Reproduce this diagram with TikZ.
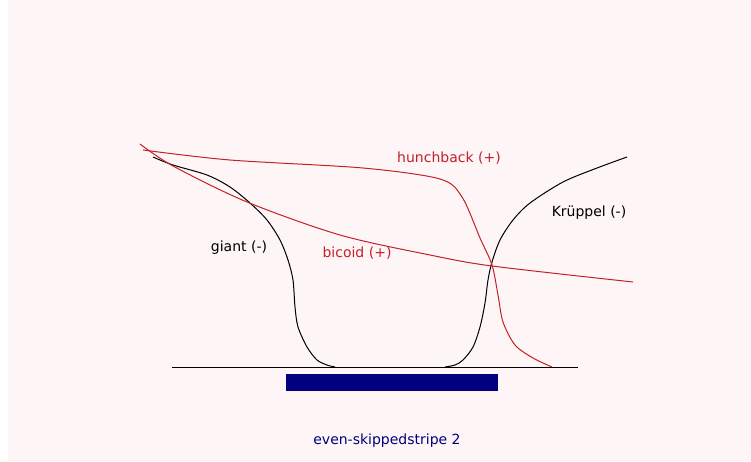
\documentclass[tikz,border=0pt]{standalone}
\usepackage{fontspec}
\usepackage{xcolor}
\usepackage{tikz}
\usetikzlibrary{positioning}
\newfontfamily\lblfont{DejaVu Sans}
\definecolor{genered}{RGB}{196,32,40}
\definecolor{stripeblue}{RGB}{0,0,128}
\definecolor{bgpink}{RGB}{254,246,246}
\tikzset{
  repr/.style={draw=black, line width=1pt, line join=round},
  activ/.style={draw=genered, line width=1pt, line join=round},
  lbl/.style={font=\lblfont\fontsize{14}{16}\selectfont, inner sep=0pt, anchor=base},
  stripebar/.style={fill=stripeblue, draw=none, minimum width=212pt, minimum height=17pt, inner sep=0pt},
  profile/.style={x=1pt, y=-1pt}
}

\begin{document}
\begin{tikzpicture}[profile]
  % background
  \useasboundingbox (0,0) rectangle (751,461);
  \fill[white] (0,0) rectangle (8,461);
  \fill[bgpink] (8,0) rectangle (751,461);

  % embryo axis and stripe
  \coordinate (axl) at (172,367);
  \coordinate (axr) at (578,367);
  \draw[black, line width=1pt] (axl) -- (axr);
  \node[stripebar] (bar) at (392,382) {};
  \node[lbl, text=stripeblue] (eve) at (387,444) {even-skippedstripe 2};

  % repressors
  \draw[repr] plot[smooth, tension=0.5] coordinates {(153,157) (173,165) (207,175) (230,187) (250,203) (267,220) (280,240) (288,260) (293,280) (295,307) (298,327) (307,347) (317,360) (327,365) (335,367)};
  \draw[repr] plot[smooth, tension=0.5] coordinates {(627,157) (597,168) (563,182) (530,203) (513,220) (500,240) (492,262) (488,280) (485,303) (480,327) (473,347) (463,360) (455,365) (445,367)};

  % activators
  \draw[activ] plot[smooth, tension=0.5] coordinates {(143,150) (230,160) (363,168) (440,179) (462,197) (480,238) (492,265) (498,295) (503,322) (515,345) (533,358) (552,367)};
  \draw[activ] plot[smooth, tension=0.5] coordinates {(140,144) (173,166) (247,202) (340,235) (430,255) (492,266) (633,282)};

  \node[lbl, text=genered] (hb) at (449,162) {hunchback (+)};
  \node[lbl, text=genered] (bcd) at (357,257) {bicoid (+)};
  \node[lbl] (gt) at (239,251) {giant (-)};
  \node[lbl] (kr) at (589,216) {Krüppel (-)};
\end{tikzpicture}
\end{document}
